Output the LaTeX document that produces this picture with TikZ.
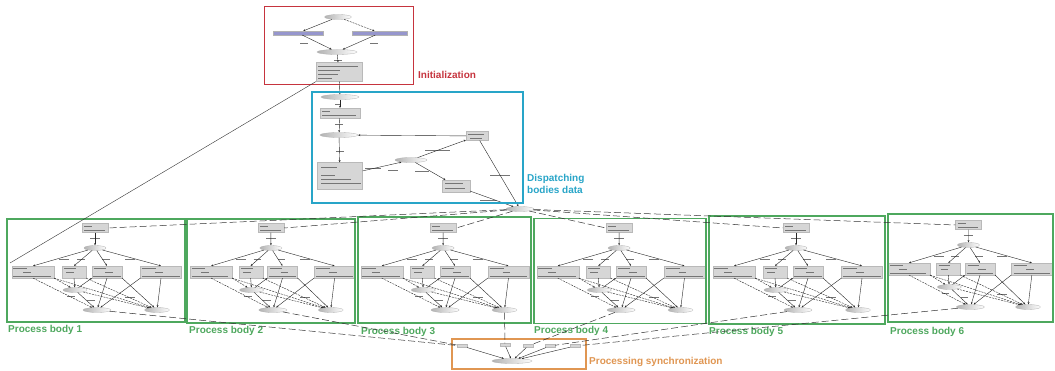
\documentclass[tikz,border=0pt]{standalone}
\usepackage{fontspec}
\setmainfont{Liberation Sans}
\usetikzlibrary{arrows.meta,shapes.geometric}

\definecolor{initred}{RGB}{198,52,62}
\definecolor{dispblue}{RGB}{40,165,200}
\definecolor{bodygreen}{RGB}{78,168,94}
\definecolor{syncorange}{RGB}{224,150,82}
\definecolor{boxgray}{RGB}{214,214,214}
\definecolor{lav}{RGB}{150,150,205}

\tikzset{
  pbox/.style={rectangle, fill=boxgray, draw=gray!55, line width=0.2pt, inner sep=0pt},
  lbox/.style={rectangle, fill=lav, draw=gray!60, line width=0.2pt, inner sep=0pt},
  pell/.style={ellipse, draw=gray!60, left color=gray!60, right color=white, line width=0.3pt, minimum height=5pt, inner sep=0pt},
  ed/.style={draw=gray!30!black, line width=0.4pt, -{Stealth[length=2.2pt,width=1.8pt]}},
  edd/.style={ed, dash pattern=on 2pt off 1pt},
  dl/.style={draw=gray!40!black, line width=0.5pt, dash pattern=on 7pt off 3pt},
  frame/.style={rectangle, draw=#1, line width=1.7pt, inner sep=0pt, fill=none},
  flabel/.style={font=\bfseries\fontsize{10}{12}\selectfont, text=#1, anchor=west, inner sep=0pt},
}

% short grey strokes standing for the tiny labels of the graph
\newcommand\scrib[3]{\draw[gray!45!black!70, line width=0.8pt] (#1,#2) -- ++(#3,0);}

% one worker graph; #1 name prefix, (#2,#3) upper-left corner, #4 horizontal scale
\newcommand\bodyblock[4]{%
\begin{scope}[shift={(#2,#3)}, xscale=#4]
  \node[pbox, minimum width=26pt, minimum height=9pt] (#1t) at (88,11) {};
  \scrib{77}{9}{8}\scrib{77}{13}{21}
  \scrib{83}{21}{10}
  \node[pell, minimum width=22pt] (#1e) at (88,31) {};
  \node[pbox, minimum width=42pt, minimum height=12pt] (#1a) at (26,55) {};
  \node[pbox, minimum width=24pt, minimum height=12pt] (#1b) at (67,55) {};
  \node[pbox, minimum width=30pt, minimum height=12pt] (#1c) at (100,55) {};
  \node[pbox, minimum width=41pt, minimum height=12pt] (#1d) at (154,55) {};
  \scrib{6}{51}{14}\scrib{16}{55}{8}\scrib{6}{59}{38}
  \scrib{57}{51}{12}\scrib{59}{55}{8}
  \scrib{87}{51}{12}\scrib{98}{55}{8}\scrib{86}{59}{28}
  \scrib{135}{51}{14}\scrib{148}{55}{8}\scrib{135}{59}{38}
  \scrib{52}{42}{10}\scrib{70}{42}{8}\scrib{95}{42}{8}\scrib{118}{42}{10}
  \node[pell, minimum width=24pt] (#1s) at (68,73) {};
  \scrib{60}{79}{8}
  \node[pell, minimum width=28pt] (#1l) at (90,93) {};
  \node[pell, minimum width=25pt] (#1r) at (150,93) {};
  \scrib{80}{83}{8}\scrib{118}{80}{10}
  \draw[ed] (#1t) -- (#1e);
  \draw[ed] (#1e) -- (#1a.north);
  \draw[ed] (#1e) -- (#1b.north);
  \draw[ed] (#1e) -- (#1c.north);
  \draw[ed] (#1e) -- (#1d.north);
  \draw[edd] (#1a.south east) -- (#1s);
  \draw[edd] (#1a.south east) -- (#1r);
  \draw[edd] (#1a.south) -- (#1l);
  \draw[ed] (#1b.south) -- (#1s);
  \draw[edd] (#1b.south east) -- (#1r);
  \draw[ed] (#1s) -- (#1l);
  \draw[edd] (#1s) -- (#1r);
  \draw[ed] (#1s) -- (#1c.south west);
  \draw[ed] (#1c.south) -- (#1l);
  \draw[ed] (#1c.south east) -- (#1r);
  \draw[ed] (#1d.south west) -- (#1l);
  \draw[ed] (#1d.south) -- (#1r);
\end{scope}}

\begin{document}
\begin{tikzpicture}[x=1pt, y=-1pt]
\useasboundingbox[fill=white] (0,0) rectangle (1055,371);

% ---------- initialization ----------
\node[pell, minimum width=27pt] (i1) at (338,17) {};
\node[lbox, minimum width=50pt, minimum height=4pt] (i2) at (298,33) {};
\node[lbox, minimum width=55pt, minimum height=4pt] (i3) at (380,33) {};
\node[pell, minimum width=40pt] (i4) at (337,52) {};
\node[pbox, minimum width=46pt, minimum height=19pt] (i5) at (339,72) {};
\scrib{318}{66}{40}\scrib{318}{70}{22}\scrib{318}{74}{20}\scrib{318}{78}{14}
\scrib{300}{43}{8}\scrib{370}{43}{8}\scrib{334}{60}{8}
\draw[ed] (i1) -- (i2);
\draw[edd] (i1) -- (i3);
\draw[ed] (i2) -- (i4);
\draw[ed] (i3) -- (i4);
\draw[ed] (i4) -- (i5);
\node[frame=initred, minimum width=149pt, minimum height=78pt] (finit) at (339,45.5) {};
\node[flabel=initred] (linit) at (418,75) {Initialization};

% ---------- dispatching ----------
\node[pell, minimum width=38pt] (d0) at (340,97) {};
\node[pbox, minimum width=40pt, minimum height=10pt] (d1) at (340,113) {};
\node[pell, minimum width=38pt] (d2) at (339,135) {};
\node[pbox, minimum width=45pt, minimum height=27pt] (d3) at (340,176) {};
\node[pell, minimum width=32pt] (d4) at (411,160) {};
\node[pbox, minimum width=22pt, minimum height=9pt] (d5) at (477,136) {};
\node[pbox, minimum width=28pt, minimum height=12pt] (d6) at (456,186) {};
\node[pell, minimum width=28pt] (D) at (520,209) {};
\scrib{322}{111}{8}\scrib{322}{115}{34}
\scrib{321}{167}{16}\scrib{321}{175}{14}\scrib{321}{179}{30}\scrib{321}{183}{40}
\scrib{468}{134}{16}\scrib{470}{138}{12}
\scrib{445}{183}{18}\scrib{445}{188}{20}
\scrib{335}{104}{6}\scrib{335}{124}{8}\scrib{336}{151}{8}
\scrib{365}{168}{16}\scrib{388}{170}{10}\scrib{425}{150}{25}\scrib{415}{171}{14}
\scrib{490}{175}{20}\scrib{480}{200}{16}
\draw[ed] (i5) -- (d0);
\draw[ed] (d0) -- (d1);
\draw[ed] (d1) -- (d2);
\draw[ed] (d2) -- (d3);
\draw[ed] (d3) -- (d4);
\draw[ed] (d4) -- (d5);
\draw[ed] (d5) -- (d2);
\draw[ed] (d4) -- (d6);
\draw[ed] (d5) -- (D);
\draw[ed] (d6) -- (D);
\node[frame=dispblue, minimum width=211pt, minimum height=111pt] (fdisp) at (417.5,147.5) {};
\node[flabel=dispblue, align=left] (ldisp) at (527,184) {Dispatching\\bodies data};

% ---------- worker graphs ----------
\bodyblock{pa}{7}{217}{1}
\bodyblock{pb}{186}{217}{0.965}
\bodyblock{pc}{356}{217}{0.99}
\bodyblock{pd}{532}{217}{0.99}
\bodyblock{pe}{708}{217}{1}
\bodyblock{pf}{884}{214}{0.96}

\node[frame=bodygreen, minimum width=178pt, minimum height=103pt] (fa) at (96,270.5) {};
\node[frame=bodygreen, minimum width=168pt, minimum height=104pt] (fb) at (271,271) {};
\node[frame=bodygreen, minimum width=173pt, minimum height=106pt] (fc) at (444.5,270) {};
\node[frame=bodygreen, minimum width=172pt, minimum height=105pt] (fd) at (620,271) {};
\node[frame=bodygreen, minimum width=176pt, minimum height=108pt] (fe) at (797,270) {};
\node[frame=bodygreen, minimum width=165pt, minimum height=108pt] (ff) at (970.5,268) {};
\node[flabel=bodygreen] (la) at (8,330) {Process body 1};
\node[flabel=bodygreen] (lb) at (189,331) {Process body 2};
\node[flabel=bodygreen] (lc) at (361,332) {Process body 3};
\node[flabel=bodygreen] (ld) at (534,331) {Process body 4};
\node[flabel=bodygreen] (le) at (709,332) {Process body 5};
\node[flabel=bodygreen] (lf) at (890,332) {Process body 6};

% ---------- synchronization ----------
\node[pell, minimum width=40pt] (z) at (512,361) {};
\node[pbox, minimum width=10pt, minimum height=3pt] (q1) at (462,346) {};
\node[pbox, minimum width=10pt, minimum height=3pt] (q2) at (505,345) {};
\node[pbox, minimum width=10pt, minimum height=3pt] (q3) at (528,346) {};
\node[pbox, minimum width=10pt, minimum height=3pt] (q4) at (550,346) {};
\node[pbox, minimum width=10pt, minimum height=3pt] (q5) at (575,346) {};
\foreach \q in {q1,q2,q3,q4,q5} \draw[ed] (\q) -- (z);
\node[frame=syncorange, minimum width=134pt, minimum height=30pt] (fsync) at (519,354) {};
\node[flabel=syncorange] (lsync) at (589,362) {Processing synchronization};

% ---------- links between stages ----------
\coordinate (entry) at (10,263);
\draw[gray!40!black, line width=0.4pt] (i5.south west) -- (entry);
\draw[dl] (D) -- (pat.east);
\draw[dl] (D) -- (pbt.east);
\draw[dl] (D) -- (pct.east);
\draw[dl] (D) -- (pdt.west);
\draw[dl] (D) -- (pet.west);
\draw[dl] (D) -- (pft.west);
\draw[dl] (pal) -- (q1);
\draw[dl] (pbl) -- (q1);
\draw[dl] (pcr) -- (q2);
\draw[dl] (pdl) -- (q3);
\draw[dl] (pel) -- (q4);
\draw[dl] (pfl) -- (q5);
\end{tikzpicture}
\end{document}
